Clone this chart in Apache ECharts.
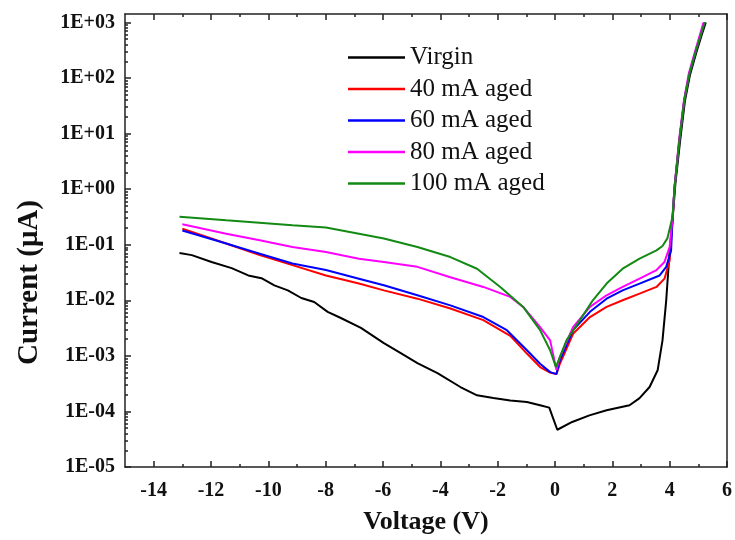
<!DOCTYPE html>
<html>
<head>
<meta charset="utf-8">
<script src="https://cdn.jsdelivr.net/npm/echarts@6/dist/echarts.min.js"></script>
<style>html,body{margin:0;padding:0;background:#fff}#chart{width:735px;height:540px}</style>
</head>
<body>
<div id="chart"></div>
<script>
// ---- data (Voltage in V, Current in µA) ----
const seriesNames = ['Virgin', '40 mA aged', '60 mA aged', '80 mA aged', '100 mA aged'];

const virginV = [-13.1,-12.67,-11.98,-11.28,-10.7,-10.24,-9.79,-9.32,-8.85,-8.4,-7.93,-7.47,-6.77,-5.97,-5.38,-4.8,-4.1,-3.3,-2.72,-2.15,-1.56,-0.98,-0.52,-0.2,0.08,0.6,1.2,1.8,2.6,2.95,3.3,3.58,3.75,3.88,4.0,4.1,4.2,4.36,4.53,4.71,4.94,5.12,5.26];
const virginI = [0.071,0.065,0.049,0.038,0.028,0.025,0.0186,0.0151,0.011,0.0093,0.0062,0.0048,0.0032,0.0017,0.00112,0.00074,0.00049,0.000275,0.000195,0.000174,0.000158,0.000148,0.000129,0.000117,0.0000468,0.0000646,0.000085,0.000105,0.000129,0.000174,0.000275,0.00055,0.0019,0.01,0.079,0.275,1.26,7.08,38,115,302,603,1000];

const aged40V = [-13.0,-11.47,-10.3,-9.16,-7.99,-6.84,-5.97,-4.8,-3.65,-2.5,-1.56,-0.98,-0.52,-0.17,0.05,0.17,0.63,1.22,1.8,2.36,2.95,3.54,3.82,4.0,4.1,4.17,4.34,4.51,4.69,4.92,5.1,5.22];
const aged40I = [0.195,0.105,0.065,0.043,0.028,0.02,0.0151,0.0107,0.0071,0.0044,0.0023,0.0011,0.00063,0.0005,0.00047,0.00072,0.0025,0.005,0.0076,0.01,0.0132,0.0174,0.0245,0.052,0.28,1.07,7.6,39.8,120,316,631,1000];

const aged60V = [-13.0,-11.47,-10.3,-9.16,-7.99,-6.84,-5.97,-4.8,-3.65,-2.5,-1.68,-0.98,-0.52,-0.17,0.05,0.17,0.63,1.22,1.8,2.36,2.95,3.65,3.88,4.05,4.1,4.17,4.34,4.51,4.69,4.92,5.1,5.22];
const aged60I = [0.18,0.105,0.069,0.046,0.035,0.0245,0.0186,0.0123,0.0081,0.005,0.0029,0.00126,0.00072,0.00051,0.00047,0.00083,0.0029,0.0062,0.0107,0.0151,0.02,0.028,0.04,0.079,0.3,1.07,7.6,39.8,120,316,631,1000];

const aged80V = [-13.0,-11.47,-10.3,-9.16,-7.99,-6.84,-5.97,-4.8,-3.65,-2.5,-1.56,-1.11,-0.52,-0.17,0.05,0.17,0.63,1.22,1.8,2.36,2.95,3.54,3.82,4.0,4.1,4.17,4.33,4.5,4.67,4.9,5.07,5.18];
const aged80I = [0.234,0.158,0.12,0.091,0.074,0.056,0.049,0.04,0.026,0.0174,0.0115,0.0076,0.0033,0.0019,0.00056,0.00095,0.0033,0.0076,0.0123,0.0174,0.0245,0.035,0.049,0.091,0.3,1.1,7.8,40,122,320,640,1000];

const aged100V = [-13.1,-11.47,-9.16,-7.99,-6.84,-5.97,-4.8,-3.65,-2.72,-1.91,-1.11,-0.52,-0.17,0.03,0.4,0.87,1.32,1.8,2.36,2.95,3.54,3.75,3.92,4.1,4.17,4.34,4.51,4.69,4.92,5.1,5.22];
const aged100I = [0.32,0.275,0.224,0.204,0.158,0.129,0.091,0.06,0.037,0.0174,0.0076,0.0029,0.00126,0.00063,0.0019,0.0044,0.01,0.02,0.037,0.056,0.079,0.095,0.13,0.32,1.07,7.6,39.8,120,316,631,1000];

const xMajorTicks = [-14,-12,-10,-8,-6,-4,-2,0,2,4,6];
const xMinorTicks = [-13,-11,-9,-7,-5,-3,-1,1,3,5];
const yMin = 1e-5, yMax = 1420;
const yMinorTicks = [];
for (let e = -5; e <= 2; e++) for (let k = 2; k <= 9; k++) yMinorTicks.push(+(k * Math.pow(10, e)).toPrecision(3));

// ---- styling ----
const colors = ['#000000', '#ff0000', '#0000ff', '#ff00ff', '#138a13'];
const serif = 'Liberation Serif';
const axisColor = '#222';

const pairs = (xs, ys) => xs.map((x, i) => [x, ys[i]]);
const dataSets = [pairs(virginV, virginI), pairs(aged40V, aged40I), pairs(aged60V, aged60I), pairs(aged80V, aged80I), pairs(aged100V, aged100I)];

function fmtExp(v) {
  const l = Math.log10(v), e = Math.round(l);
  if (Math.abs(l - e) > 1e-6) return '';
  return '1E' + (e >= 0 ? '+' : '-') + String(Math.abs(e)).padStart(2, '0');
}

const tickLabelStyle = { fontFamily: serif, fontWeight: 'bold', fontSize: 20, color: '#111' };
const lineStyle = { color: axisColor, width: 1.5 };

const xBase = { type: 'value', min: -15, max: 6, interval: 1, splitLine: { show: false } };

const option = {
  animation: false,
  backgroundColor: '#fff',
  grid: { left: 125, right: 6, top: 14, bottom: 70, containLabel: false },
  legend: {
    orient: 'vertical', left: 343, top: 40,
    icon: 'rect', itemWidth: 57, itemHeight: 2.5, itemGap: 6.5,
    textStyle: { fontFamily: serif, fontSize: 25, color: '#111', lineHeight: 25 },
    data: seriesNames
  },
  xAxis: [
    Object.assign({}, xBase, {
      position: 'bottom',
      axisLine: { show: true, onZero: false, lineStyle },
      axisTick: { show: true, inside: true, length: 6, customValues: xMajorTicks, lineStyle },
      axisLabel: Object.assign({ customValues: xMajorTicks, margin: 14 }, tickLabelStyle),
      name: 'Voltage (V)', nameLocation: 'middle', nameGap: 42,
      nameTextStyle: { fontFamily: serif, fontWeight: 'bold', fontSize: 26, color: '#111' }
    }),
    Object.assign({}, xBase, {
      position: 'bottom',
      axisLine: { show: false, onZero: false },
      axisTick: { show: true, inside: true, length: 3, customValues: xMinorTicks, lineStyle },
      axisLabel: { show: false }
    }),
    Object.assign({}, xBase, {
      position: 'top',
      axisLine: { show: true, onZero: false, lineStyle },
      axisTick: { show: true, inside: true, length: 6, customValues: xMajorTicks, lineStyle },
      axisLabel: { show: false }
    }),
    Object.assign({}, xBase, {
      position: 'top',
      axisLine: { show: false, onZero: false },
      axisTick: { show: true, inside: true, length: 3, customValues: xMinorTicks, lineStyle },
      axisLabel: { show: false }
    })
  ],
  yAxis: [
    {
      type: 'log', logBase: 10, min: yMin, max: yMax, interval: 1, position: 'left',
      axisLine: { show: true, onZero: false, lineStyle },
      axisTick: { show: true, inside: true, length: 6, lineStyle },
      axisLabel: Object.assign({ formatter: fmtExp, margin: 10, showMaxLabel: false }, tickLabelStyle),
      splitLine: { show: false },
      name: 'Current (μA)', nameLocation: 'middle', nameGap: 81, nameRotate: 90,
      nameTextStyle: { fontFamily: serif, fontWeight: 'bold', fontSize: 29, color: '#111', padding: [0, 84, 0, 0] }
    },
    {
      type: 'log', logBase: 10, min: yMin, max: yMax, position: 'left',
      axisLine: { show: false, onZero: false },
      axisTick: { show: true, inside: true, length: 3, customValues: yMinorTicks, lineStyle },
      axisLabel: { show: false },
      splitLine: { show: false }
    },
    {
      type: 'log', logBase: 10, min: yMin, max: yMax, position: 'right',
      axisLine: { show: true, onZero: false, lineStyle },
      axisTick: { show: false }, axisLabel: { show: false }, splitLine: { show: false }
    }
  ],
  series: seriesNames.map((name, i) => ({
    name, type: 'line', data: dataSets[i], xAxisIndex: 0, yAxisIndex: 0,
    symbol: 'none', smooth: false,
    lineStyle: { color: colors[i], width: 2 },
    itemStyle: { color: colors[i] }
  }))
};

const chart = echarts.init(document.getElementById('chart'), null, { renderer: 'canvas' });
chart.setOption(option);
</script>
</body>
</html>
